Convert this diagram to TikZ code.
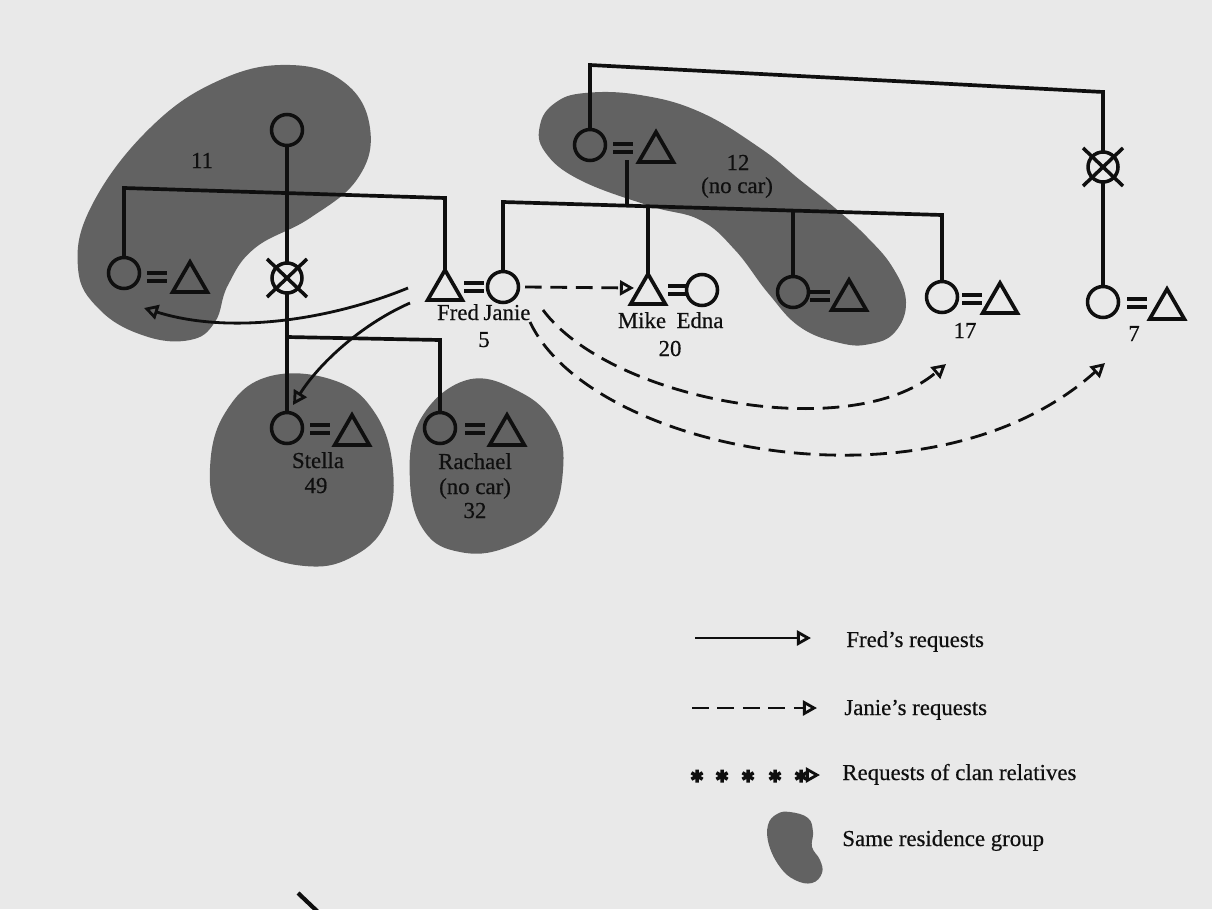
\documentclass[tikz,border=0pt]{standalone}
\usepackage{fontspec}
\setmainfont{Liberation Serif}
\newfontfamily\inkserif{Liberation Serif}[FakeBold=0.45]
\usetikzlibrary{arrows.meta,shapes.geometric}
\definecolor{paper}{RGB}{233,233,233}
\definecolor{blobgrey}{RGB}{98,98,98}
\definecolor{ink}{RGB}{15,15,15}

% marriage sign "=" centred at (#1,#2)
\newcommand\wedlock[2]{%
  \draw[marry] (#1-10,#2-4) -- (#1+10,#2-4) (#1-10,#2+4) -- (#1+10,#2+4);}
% cross over a deceased person's circle
\newcommand\deadcross[1]{%
  \draw[marry] ([shift={(-20,-19)}]#1.center) -- ([shift={(20,19)}]#1.center)
               ([shift={(-20,19)}]#1.center) -- ([shift={(20,-19)}]#1.center);}
% six-spoked asterisk of the clan-request line
\newcommand\clanstar[2]{%
  \draw[line width=2pt, ink] (#1,#2-6.5) -- (#1,#2+6.5)
     (#1-5.6,#2-3.2) -- (#1+5.6,#2+3.2) (#1-5.6,#2+3.2) -- (#1+5.6,#2-3.2);}

\begin{document}
\begin{tikzpicture}[x=0.02cm,y=-0.02cm,
  kin/.style={line width=2.1pt, draw=ink},
  fem/.style={circle, draw=ink, line width=2pt, minimum size=0.62cm, inner sep=0pt, outer sep=0pt},
  mal/.style={regular polygon, regular polygon sides=3, draw=ink, line width=2.1pt,
              minimum size=0.8cm, inner sep=0pt, outer sep=0pt},
  dead/.style={fem, minimum size=0.6cm},
  marry/.style={line width=2pt, draw=ink},
  blob/.style={fill=blobgrey, draw=none},
  lbl/.style={font=\inkserif\fontsize{13}{14}\selectfont, text=ink, inner sep=0pt, anchor=base},
  fredreq/.style={line width=1.6pt, draw=ink,
     -{Triangle[open, length=8pt, width=8.5pt, line width=1.6pt]}},
  janiereq/.style={fredreq, dash pattern=on 9.5pt off 5pt},
]
\useasboundingbox (0,0) rectangle (1212,909);
\fill[paper] (0,0) rectangle (1212,909);

% ---- residence groups ----
\fill[blob] plot[smooth cycle, tension=0.7] coordinates {
  (290,65) (345,83) (370,128) (358,178) (310,218) (255,248) (228,285)
  (215,322) (190,340) (145,336) (100,310) (78,268) (92,205) (150,128) (220,80)};
\fill[blob] plot[smooth cycle, tension=0.7] coordinates {
  (585,93) (640,95) (700,112) (760,148) (800,180) (835,208) (867,237)
  (893,268) (906,302) (895,332) (870,344) (840,343) (800,327) (768,293)
  (735,250) (700,220) (650,206) (580,180) (545,152) (540,125) (555,103)};
\fill[blob] plot[smooth cycle, tension=0.7] coordinates {
  (267,377) (333,380) (375,413) (393,470) (385,525) (350,558) (305,566)
  (255,550) (220,515) (210,468) (225,413)};
\fill[blob] plot[smooth cycle, tension=0.7] coordinates {
  (467,380) (520,392) (555,425) (563,470) (548,520) (505,548) (460,552)
  (425,532) (410,482) (420,420)};

% ---- people ----
\node[fem] (top11) at (287,130) {};
\node[dead] (dx11) at (287,278) {};
\node[fem] (sisL) at (124,273) {};
\node[mal] (sisLh) at (190,282) {};
\node[mal] (fred) at (445,290) {};
\node[fem] (janie) at (503,287) {};
\node[fem] (mom12) at (590,145) {};
\node[mal] (dad12) at (656,152) {};
\node[mal] (mike) at (648,294) {};
\node[fem] (edna) at (702,290) {};
\node[fem] (sib12) at (793,292) {};
\node[mal] (sib12h) at (849,300) {};
\node[fem] (sib17) at (942,297) {};
\node[mal] (sib17h) at (1000,303) {};
\node[dead] (dx7) at (1103,167) {};
\node[fem] (w7) at (1103,302) {};
\node[mal] (h7) at (1167,309) {};
\node[fem] (stella) at (287,428) {};
\node[mal] (stellah) at (352,435) {};
\node[fem] (rachael) at (440,428) {};
\node[mal] (rachaelh) at (507,435) {};

% marriage signs
\wedlock{157}{277}
\wedlock{474}{287}
\wedlock{623}{148}
\wedlock{678}{290}
\wedlock{820}{296}
\wedlock{972}{299}
\wedlock{1137}{303}
\wedlock{320}{429}
\wedlock{475}{429}
\deadcross{dx11}
\deadcross{dx7}

% ---- descent lines ----
\coordinate (s11L) at (124,188);
\coordinate (s11R) at (445,198);
\coordinate (s12L) at (503,202);
\coordinate (s12R) at (942,215);
\coordinate (c12) at (627,160);
\coordinate (c12b) at (627,206);
\coordinate (mikeTop) at (648,206);
\coordinate (sib12Top) at (793,211);
\coordinate (topL) at (590,65);
\coordinate (topR) at (1103,92);
\coordinate (s49L) at (287,337);
\coordinate (s49R) at (440,340);

\draw[kin] (top11) -- (dx11);
\draw[kin] (dx11) -- (stella);
\draw[kin] (sisL.north) -- (s11L) -- (s11R) -- (fred.north);
\draw[kin] (janie.north) -- (s12L) -- (s12R) -- (sib17.north);
\draw[kin] (c12) -- (c12b);
\draw[kin] (mikeTop) -- (mike.north);
\draw[kin] (sib12Top) -- (sib12.north);
\draw[kin] (mom12.north) -- (topL) -- (topR) -- (dx7.north);
\draw[kin] (dx7.south) -- (w7.north);
\draw[kin] (s49L) -- (s49R) -- (rachael.north);

% ---- requests ----
\coordinate (f1s) at (408,288);
\coordinate (f1e) at (144,308);
\coordinate (f2s) at (410,303);
\coordinate (f2e) at (293,405);
\coordinate (j1s) at (525,287);
\coordinate (j1e) at (634,288);
\coordinate (j2s) at (543,310);
\coordinate (j2e) at (946,364);
\coordinate (j3s) at (530,322);
\coordinate (j3e) at (1105,363);
\draw[fredreq] (f1s) .. controls (330,320) and (230,335) .. (f1e);
\draw[fredreq] (f2s) .. controls (360,325) and (318,365) .. (f2e);
\draw[janiereq] (j1s) -- (j1e);
\draw[janiereq] (j2s) .. controls (610,400) and (850,445) .. (j2e);
\draw[janiereq] (j3s) .. controls (590,450) and (930,520) .. (j3e);

% ---- labels ----
\node[lbl] (t11) at (202,168) {11};
\node[lbl] (t12) at (738,170) {12};
\node[lbl] (t12b) at (737,193) {(no car)};
\node[lbl] (tfred) at (458,320) {Fred};
\node[lbl] (tjanie) at (507,320) {Janie};
\node[lbl] (t5) at (484,347) {5};
\node[lbl] (tmike) at (642,328) {Mike};
\node[lbl] (tedna) at (700,328) {Edna};
\node[lbl] (t20) at (670,356) {20};
\node[lbl] (t17) at (965,338) {17};
\node[lbl] (t7) at (1134,341) {7};
\node[lbl] (tstella) at (318,468) {Stella};
\node[lbl] (t49) at (316,493) {49};
\node[lbl] (trach) at (475,469) {Rachael};
\node[lbl] (trach2) at (475,494) {(no car)};
\node[lbl] (t32) at (475,518) {32};

% ---- legend ----
\coordinate (k1s) at (695,638);
\coordinate (k1e) at (811,638);
\coordinate (k2s) at (692,708);
\coordinate (k2e) at (817,708);
\coordinate (k3s) at (807,775);
\coordinate (k3e) at (820,775);
\draw[fredreq] (k1s) -- (k1e);
\draw[janiereq] (k2s) -- (k2e);
\clanstar{697}{776}
\clanstar{722}{776}
\clanstar{748}{776}
\clanstar{775}{776}
\clanstar{801}{776}
\draw[fredreq] (k3s) -- (k3e);
\fill[blob] plot[smooth cycle, tension=0.7] coordinates {
  (790,812) (808,818) (813,832) (812,847) (820,860) (822,873) (812,883)
  (795,880) (780,867) (769,845) (768,825) (777,814)};
\node[lbl, anchor=base west] (lg1) at (846,647) {Fred’s requests};
\node[lbl, anchor=base west] (lg2) at (844,715) {Janie’s requests};
\node[lbl, anchor=base west] (lg3) at (842,780) {Requests of clan relatives};
\node[lbl, anchor=base west] (lg4) at (842,846) {Same residence group};

% stray stroke at the foot of the page
\draw[line width=2.4pt, ink] (298,893) -- (318,912);
\end{tikzpicture}
\end{document}
